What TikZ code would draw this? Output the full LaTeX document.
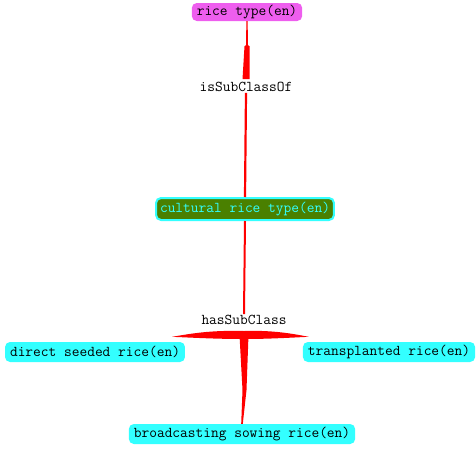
\documentclass[tikz,border=0pt]{standalone}
\usetikzlibrary{calc}

\definecolor{ricemagenta}{RGB}{238,94,238}
\definecolor{ricecyan}{RGB}{51,255,255}
\definecolor{ricegreen}{RGB}{74,128,0}

\tikzset{
  every node/.style={font=\fontsize{15}{16}\selectfont\ttfamily},
  cls/.style={rounded corners=5pt, inner xsep=5pt, inner ysep=0pt, minimum height=20pt},
  rel/.style={inner sep=1pt},
  edge/.style={fill=red, draw=none},
}

\begin{document}
\begin{tikzpicture}[x=1pt, y=-1pt]
\useasboundingbox (0,0) rectangle (476,450);

\node[cls, fill=ricemagenta, minimum height=18pt] (rt) at (247,12) {rice type(en)};
\node[rel] (isa) at (246,87) {isSubClassOf};
\node[cls, fill=ricegreen, draw=ricecyan, line width=2pt, text=ricecyan, minimum height=22pt, inner xsep=4pt]
  (crt) at (245,209) {cultural rice type(en)};
\node[rel] (hsc) at (244,320) {hasSubClass};
\node[cls, fill=ricecyan] (dsr) at (95,352) {direct seeded rice(en)};
\node[cls, fill=ricecyan] (tpr) at (389,352) {transplanted rice(en)};
\node[cls, fill=ricecyan] (bsr) at (242,434) {broadcasting sowing rice(en)};

% tapered connectors, thick end near the relation label
\fill[edge] ($(rt.south)+(-0.6,0)$) -- ($(rt.south)+(0.6,0)$) -- ($(rt.south)+(1,24)$) -- ($(rt.south)+(2.5,25)$)
  -- ($(isa.north)+(3.5,-2)$) -- ($(isa.north)+(-3.5,-2)$) -- ($(rt.south)+(-2.5,25)$) -- ($(rt.south)+(-1,24)$) -- cycle;
\draw[red, line width=2.2pt] (isa.south) -- (crt.north);
\draw[red, line width=2pt] (crt.south) -- (hsc.north);

\coordinate (hub) at (244,335);
\fill[edge] ($(hub)+(0,-4)$) .. controls ($(hub)+(-35,-5)$) and ($(hub)+(-55,-1)$) .. ($(dsr.north east)+(-13,-5)$)
  .. controls ($(hub)+(-45,3)$) and ($(hub)+(-25,4)$) .. ($(hub)+(0,4)$) -- cycle;
\fill[edge] ($(hub)+(0,-4)$) .. controls ($(hub)+(30,-5)$) and ($(hub)+(50,-1)$) .. ($(tpr.north west)+(6,-5)$)
  .. controls ($(hub)+(40,3)$) and ($(hub)+(22,4)$) .. ($(hub)+(0,4)$) -- cycle;
\fill[edge] ($(hub)+(-4.5,0)$) -- ($(hub)+(4.5,0)$) -- ($(hub)+(2.5,55)$) -- ($(bsr.north)+(0.8,0)$)
  -- ($(bsr.north)+(-0.8,0)$) -- ($(hub)+(-1.5,55)$) -- cycle;
\end{tikzpicture}
\end{document}
